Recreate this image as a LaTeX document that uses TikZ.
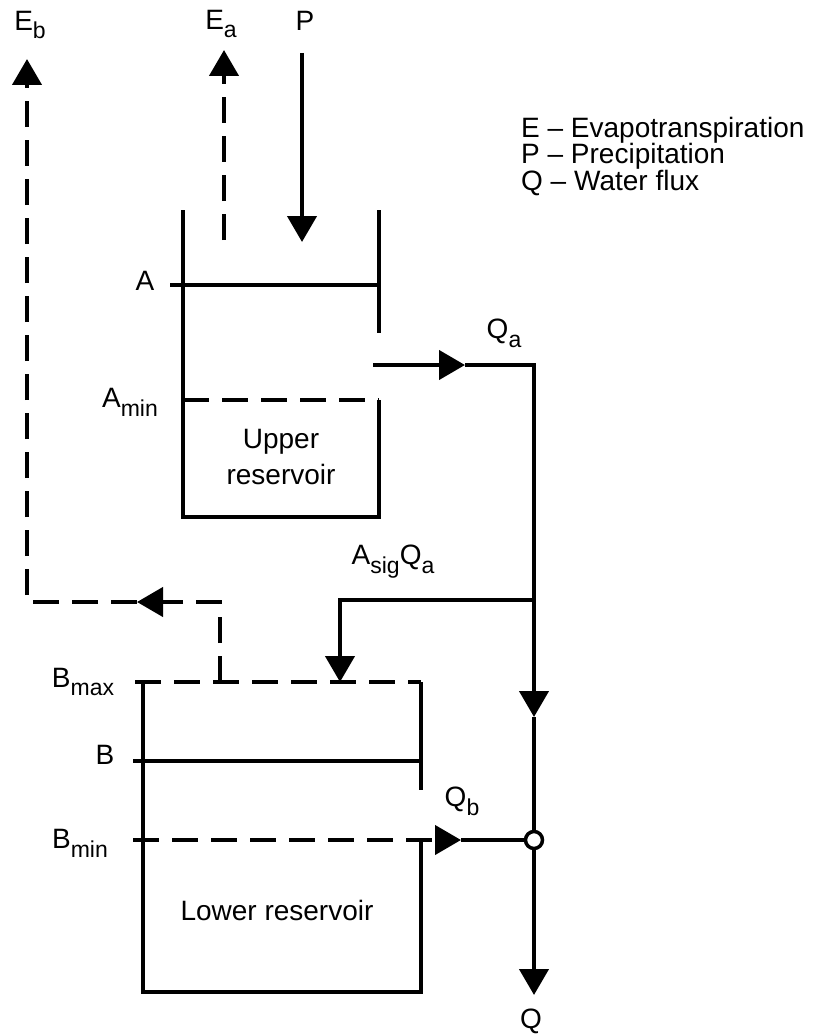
\documentclass[tikz,border=0pt]{standalone}
\usepackage{fontspec}
\setmainfont{Liberation Sans}
\usetikzlibrary{arrows.meta}
\newcommand{\lsub}[1]{\raisebox{-0.6ex}{\fontsize{23}{23}\selectfont #1}}
\begin{document}
\begin{tikzpicture}[
    x=1pt, y=-1pt,
    wall/.style={line width=4.3pt},
    flow/.style={line width=4.3pt},
    dashline/.style={line width=4.3pt, dash pattern=on 26pt off 13pt},
    tip/.style={-{Triangle[length=26pt,width=29pt]}},
    lbl/.style={font=\fontsize{28}{36}\selectfont, inner sep=0pt},
    legend/.style={lbl, anchor=west, text height=19pt, text depth=5pt},
    junction/.style={circle, draw, fill=white, line width=3.5pt, minimum size=17pt, inner sep=0pt}
]
\useasboundingbox (0,0) rectangle (828,1035);

% upper reservoir
\coordinate (ul top) at (183,210);
\coordinate (ul bot) at (183,517);
\coordinate (ur bot) at (379,517);
\coordinate (ur top) at (379,210);
\coordinate (ur gap) at (379,333);
\coordinate (amin l) at (183,400);
\coordinate (amin r) at (379,400);
\coordinate (a l) at (170,285);
\coordinate (a r) at (379,285);
\draw[wall] (ul top) -- (ul bot) -- (ur bot) -- (amin r);
\draw[wall] (ur top) -- (ur gap);
\draw[flow] (a l) -- (a r);
\draw[dashline] (amin l) -- (amin r);

\node[lbl] (A lab) at (145,281) {A};
\node[lbl] (Amin lab) at (130,402) {A\lsub{min}};
\node[lbl, align=center] (upper) at (281,457) {Upper\\reservoir};

% inputs and losses of the upper reservoir
\coordinate (ea bot) at (224,240);
\coordinate (ea top) at (224,50);
\coordinate (p top) at (302,53);
\coordinate (p bot) at (302,242);
\draw[dashline, tip] (ea bot) -- (ea top);
\draw[flow, tip] (p top) -- (p bot);
\node[lbl] (Ea lab) at (221,24) {E\lsub{a}};
\node[lbl] (P lab) at (305,21) {P};

% outflow Qa
\coordinate (qa out) at (373,365);
\coordinate (qa head) at (465,365);
\coordinate (qa corner) at (534,365);
\coordinate (split) at (534,600);
\coordinate (down head) at (534,717);
\node[junction] (join) at (534,840) {};
\coordinate (q end) at (534,995);
\draw[flow, tip] (qa out) -- (qa head);
\draw[flow, tip] (qa head) -- (qa corner) -- (down head);
\draw[flow] (down head) -- (join);
\draw[flow, tip] (join) -- (q end);
\node[lbl] (Qa lab) at (504,333) {Q\lsub{a}};
\node[lbl] (Q lab) at (531,1021) {Q};

% part of Qa to the lower reservoir
\coordinate (sig corner) at (340,600);
\coordinate (sig head) at (340,682);
\draw[flow, tip] (split) -- (sig corner) -- (sig head);
\node[lbl] (Asig lab) at (393,562) {A\lsub{sig}Q\lsub{a}};

% lower reservoir
\coordinate (bmax l) at (135,682);
\coordinate (bmax r) at (421,682);
\coordinate (ll top) at (143,682);
\coordinate (ll bot) at (143,992);
\coordinate (lr bot) at (421,992);
\coordinate (lr gap) at (421,790);
\coordinate (b l) at (133,761);
\coordinate (b r) at (421,761);
\coordinate (bmin l) at (133,840);
\coordinate (bmin r) at (421,840);
\coordinate (qb head) at (461,840);
\draw[wall] (ll top) -- (ll bot) -- (lr bot) -- (bmin r);
\draw[wall] (bmax r) -- (lr gap);
\draw[dashline] (bmax l) -- (bmax r);
\draw[flow] (b l) -- (b r);
\draw[dashline, tip] (bmin l) -- (qb head);
\draw[flow] (qb head) -- (join);

\node[lbl] (Bmax lab) at (83,682) {B\lsub{max}};
\node[lbl] (B lab) at (105,755) {B};
\node[lbl] (Bmin lab) at (80,843) {B\lsub{min}};
\node[lbl] (Qb lab) at (462,801) {Q\lsub{b}};
\node[lbl] (lower) at (277,910) {Lower reservoir};

% losses of the lower reservoir
\coordinate (eb start) at (220,682);
\coordinate (eb corner r) at (220,602);
\coordinate (eb head) at (137,602);
\coordinate (eb corner l) at (27,602);
\coordinate (eb top) at (27,59);
\draw[dashline, tip] (eb start) -- (eb corner r) -- (eb head);
\draw[dashline, tip] (eb head) -- (eb corner l) -- (eb top);
\node[lbl] (Eb lab) at (30,25) {E\lsub{b}};

% legend
\node[legend] (leg E) at (521,131) {E -- Evapotranspiration};
\node[legend] (leg P) at (521,157) {P -- Precipitation};
\node[legend] (leg Q) at (521,183) {Q -- Water flux};
\end{tikzpicture}
\end{document}
